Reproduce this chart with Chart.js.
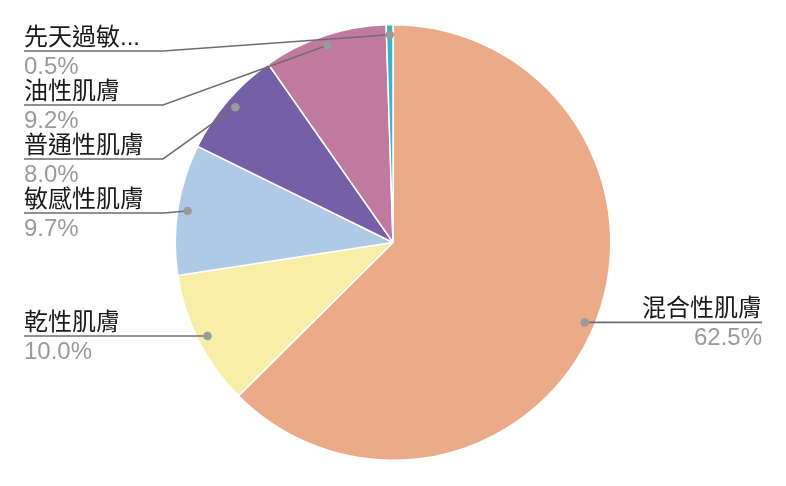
<!DOCTYPE html>
<html>
<head>
<meta charset="utf-8">
<script src="https://cdn.jsdelivr.net/npm/chart.js@4"></script>
<style>
  html, body { margin: 0; padding: 0; background: #fff; }
  #wrap { width: 786px; height: 486px; }
</style>
</head>
<body>
<div id="wrap"><canvas id="chart"></canvas></div>
<script>
const categories = ["混合性肌膚", "乾性肌膚", "敏感性肌膚", "普通性肌膚", "油性肌膚", "先天過敏..."];
const shares = [62.5, 10.0, 9.7, 8.0, 9.2, 0.5];
const shareLabels = ["62.5%", "10.0%", "9.7%", "8.0%", "9.2%", "0.5%"];
const colors = ["#EBAA88", "#F7EFA8", "#AFCAE7", "#775FA7", "#C07A9F", "#3DB3C6"];

const FONT = '"Liberation Sans", "Noto Sans CJK TC", sans-serif';

// leader lines + labels drawn beside the pie
const sideLabels = {
    id: "sideLabels",
    afterDatasetsDraw(chart){
        let ctx = chart.ctx;
        let arcs = chart.getDatasetMeta(0).data;
        let W = chart.width;
        let margin = 24, elbow = 163, gap = 54, minY = 51;

        let items = arcs.map((a, i) => {
            let p = a.getProps(["x","y","startAngle","endAngle","outerRadius"], true);
            let mid = (p.startAngle + p.endAngle) / 2;
            let r = p.outerRadius - 10;
            let dx = p.x + Math.cos(mid) * r;
            let dy = p.y + Math.sin(mid) * r;
            return {i, dx, dy, left: Math.cos(mid) < 0};
        });

        ["left","right"].forEach(side => {
            let list = items.filter(it => (side == "left") == it.left).sort((a,b)=>a.dy-b.dy);
            let prev = minY - gap;
            list.forEach(it => {
                it.ly = Math.max(it.dy, prev + gap);
                prev = it.ly;
            });
        });

        items.forEach(it => {
            let ex = it.left ? elbow : W - elbow;
            let endX = it.left ? margin : W - margin;
            ctx.save();
            ctx.strokeStyle = "#6e6e6e";
            ctx.lineWidth = 1.6;
            ctx.beginPath();
            ctx.moveTo(it.dx, it.dy);
            if (Math.abs(it.ly - it.dy) > 0.5) ctx.lineTo(ex, it.ly);
            ctx.lineTo(endX, it.ly);
            ctx.stroke();

            ctx.fillStyle = "#9a9a9a";
            ctx.beginPath();
            ctx.arc(it.dx, it.dy, 4.3, 0, Math.PI * 2);
            ctx.fill();

            ctx.font = "24px " + FONT;
            ctx.textAlign = it.left ? "left" : "right";
            ctx.textBaseline = "alphabetic";
            ctx.fillStyle = "#1a1a1a";
            ctx.fillText(categories[it.i], endX, it.ly - 6);
            ctx.fillStyle = "#9a9a9a";
            ctx.fillText(shareLabels[it.i], endX, it.ly + 23);
            ctx.restore();
        });
    }
};

new Chart(document.getElementById("chart"), {
    type: "pie",
    data: {
        labels: categories,
        datasets: [{
            data: shares,
            backgroundColor: colors,
            borderColor: "#fff",
            borderWidth: 1.5
        }]
    },
    options: {
        responsive: true,
        maintainAspectRatio: false,
        animation: false,
        layout: { padding: { top: 24, bottom: 25 } },
        plugins: {
            legend: { display: false },
            tooltip: { enabled: false }
        }
    },
    plugins: [sideLabels]
});
</script>
</body>
</html>
